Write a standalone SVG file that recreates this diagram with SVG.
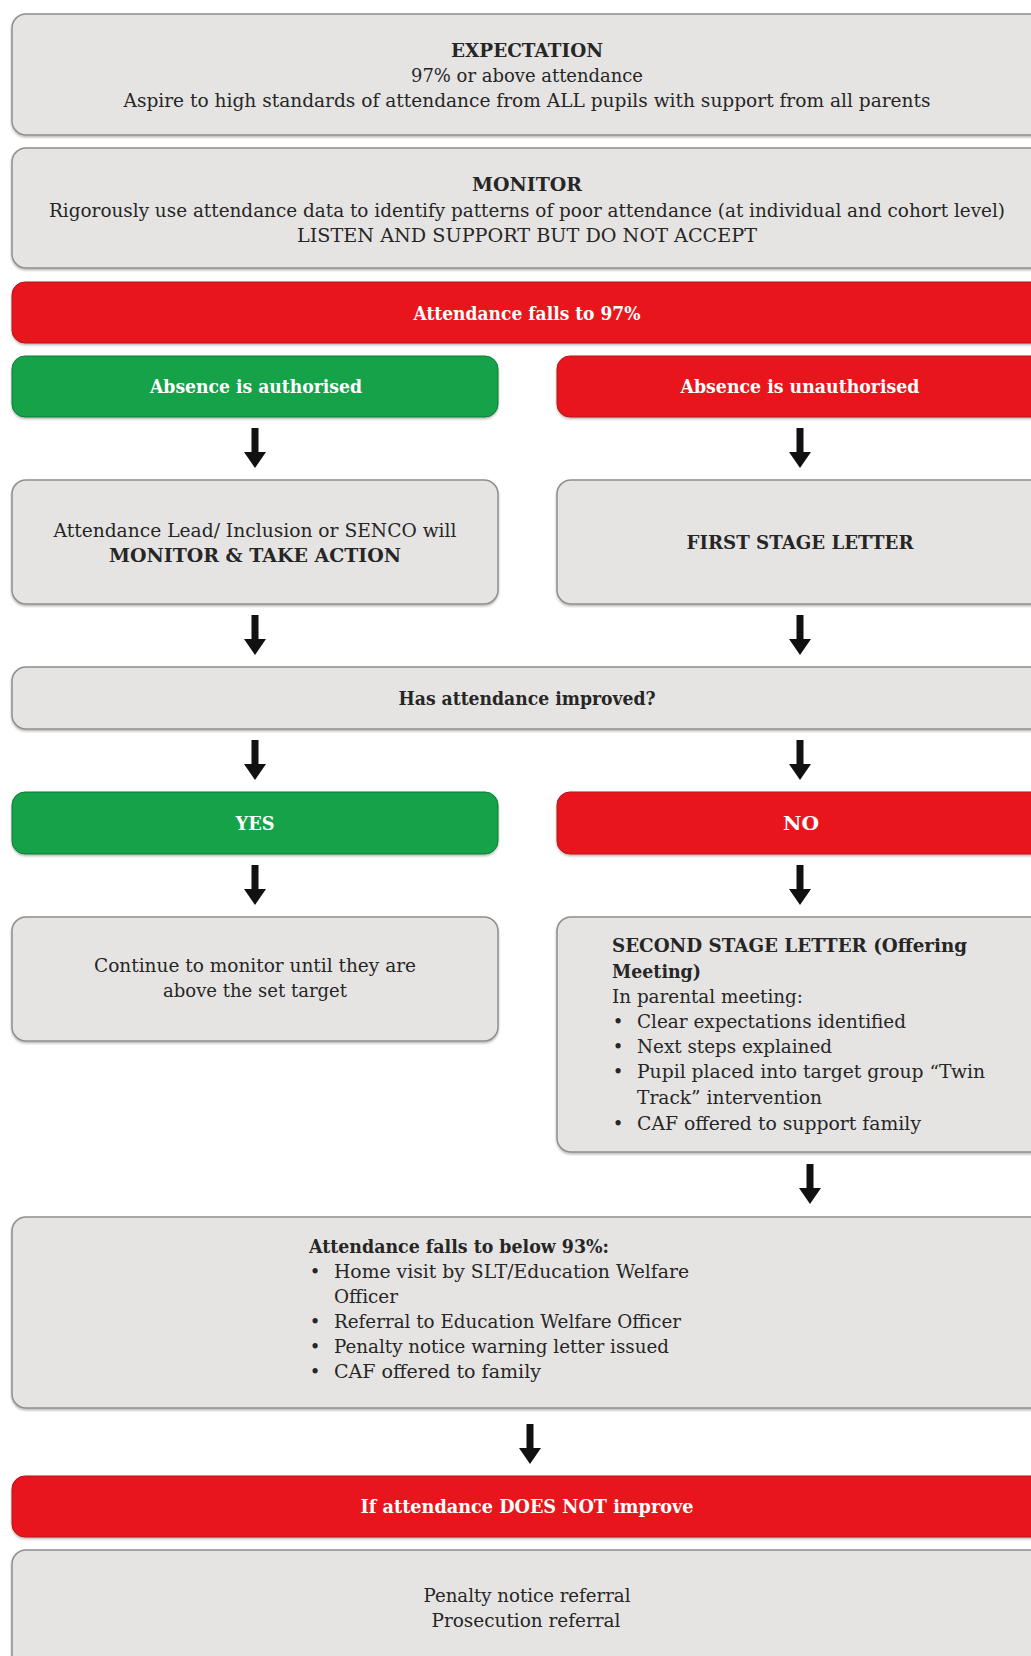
<svg xmlns="http://www.w3.org/2000/svg" width="1031" height="1656" viewBox="0 0 1031 1656">
  <style>
    text { font-family: "DejaVu Serif", "Liberation Serif", serif; font-size: 18px; fill: #262626; }
    .c { text-anchor: middle; }
    .b { font-weight: bold; }
    .w { fill: #ffffff; font-weight: bold; }
    .gray { fill: #e5e4e3; stroke: #8f8f8f; stroke-width: 1.5; }
    .red { fill: #e8161f; stroke: #b51218; stroke-width: 1; }
    .green { fill: #14a24a; stroke: #0f7d39; stroke-width: 1; }
  </style>
  <defs>
    <filter id="sh" x="-5%" y="-5%" width="110%" height="120%">
      <feDropShadow dx="0" dy="1.5" stdDeviation="1" flood-color="#000" flood-opacity="0.3"/>
    </filter>
    <path id="arr" d="M-3.5,0 H3.5 V24 H11 L0,40 L-11,24 H-3.5 Z" fill="#111"/>
  </defs>
  <rect width="1031" height="1656" fill="#ffffff"/>

  <g id="expectation">
    <rect class="gray" x="12" y="14" width="1040" height="121" rx="14" filter="url(#sh)"/>
    <text class="c b" x="527" y="57" textLength="152" lengthAdjust="spacingAndGlyphs">EXPECTATION</text>
    <text class="c" x="527" y="82" textLength="232" lengthAdjust="spacingAndGlyphs">97% or above attendance</text>
    <text class="c" x="527" y="107" textLength="807" lengthAdjust="spacingAndGlyphs">Aspire to high standards of attendance from ALL pupils with support from all parents</text>
  </g>

  <g id="monitor">
    <rect class="gray" x="12" y="148" width="1040" height="120" rx="14" filter="url(#sh)"/>
    <text class="c b" x="527" y="191" textLength="110" lengthAdjust="spacingAndGlyphs">MONITOR</text>
    <text class="c" x="527" y="217" textLength="956" lengthAdjust="spacingAndGlyphs">Rigorously use attendance data to identify patterns of poor attendance (at individual and cohort level)</text>
    <text class="c" x="527" y="242" textLength="460" lengthAdjust="spacingAndGlyphs">LISTEN AND SUPPORT BUT DO NOT ACCEPT</text>
  </g>

  <g id="falls97">
    <rect class="red" x="12" y="282" width="1040" height="61" rx="13" filter="url(#sh)"/>
    <text class="c w" x="527" y="320" textLength="227" lengthAdjust="spacingAndGlyphs">Attendance falls to 97%</text>
  </g>

  <g id="authorised">
    <rect class="green" x="12" y="356" width="486" height="61" rx="13" filter="url(#sh)"/>
    <text class="c w" x="256" y="393" textLength="212" lengthAdjust="spacingAndGlyphs">Absence is authorised</text>
  </g>

  <g id="unauthorised">
    <rect class="red" x="557" y="356" width="495" height="61" rx="13" filter="url(#sh)"/>
    <text class="c w" x="800" y="393" textLength="239" lengthAdjust="spacingAndGlyphs">Absence is unauthorised</text>
  </g>

  <g id="monitor-action">
    <rect class="gray" x="12" y="480" width="486" height="124" rx="14" filter="url(#sh)"/>
    <text class="c" x="255" y="537" textLength="403" lengthAdjust="spacingAndGlyphs">Attendance Lead/ Inclusion or SENCO will</text>
    <text class="c b" x="255" y="562" textLength="292" lengthAdjust="spacingAndGlyphs">MONITOR &amp; TAKE ACTION</text>
  </g>

  <g id="first-letter">
    <rect class="gray" x="557" y="480" width="495" height="124" rx="14" filter="url(#sh)"/>
    <text class="c b" x="800" y="549" textLength="227" lengthAdjust="spacingAndGlyphs">FIRST STAGE LETTER</text>
  </g>

  <g id="improved">
    <rect class="gray" x="12" y="667" width="1040" height="62" rx="14" filter="url(#sh)"/>
    <text class="c b" x="527" y="705" textLength="257" lengthAdjust="spacingAndGlyphs">Has attendance improved?</text>
  </g>

  <g id="yes">
    <rect class="green" x="12" y="792" width="486" height="62" rx="13" filter="url(#sh)"/>
    <text class="c w" x="255" y="830" textLength="39" lengthAdjust="spacingAndGlyphs">YES</text>
  </g>

  <g id="no">
    <rect class="red" x="557" y="792" width="495" height="62" rx="13" filter="url(#sh)"/>
    <text class="c w" x="801" y="830" textLength="36" lengthAdjust="spacingAndGlyphs">NO</text>
  </g>

  <g id="continue">
    <rect class="gray" x="12" y="917" width="486" height="124" rx="14" filter="url(#sh)"/>
    <text class="c" x="255" y="972" textLength="322" lengthAdjust="spacingAndGlyphs">Continue to monitor until they are</text>
    <text class="c" x="255" y="997" textLength="184" lengthAdjust="spacingAndGlyphs">above the set target</text>
  </g>

  <g id="second-letter">
    <rect class="gray" x="557" y="917" width="495" height="235" rx="14" filter="url(#sh)"/>
    <text class="b" x="612" y="952" textLength="355" lengthAdjust="spacingAndGlyphs">SECOND STAGE LETTER (Offering</text>
    <text class="b" x="612" y="978" textLength="89" lengthAdjust="spacingAndGlyphs">Meeting)</text>
    <text x="612" y="1003" textLength="191" lengthAdjust="spacingAndGlyphs">In parental meeting:</text>
    <text class="c" x="618" y="1028">•</text>
    <text x="637" y="1028" textLength="269" lengthAdjust="spacingAndGlyphs">Clear expectations identified</text>
    <text class="c" x="618" y="1053">•</text>
    <text x="637" y="1053" textLength="195" lengthAdjust="spacingAndGlyphs">Next steps explained</text>
    <text class="c" x="618" y="1078">•</text>
    <text x="637" y="1078" textLength="348" lengthAdjust="spacingAndGlyphs">Pupil placed into target group “Twin</text>
    <text x="637" y="1104" textLength="185" lengthAdjust="spacingAndGlyphs">Track” intervention</text>
    <text class="c" x="618" y="1130">•</text>
    <text x="637" y="1130" textLength="284" lengthAdjust="spacingAndGlyphs">CAF offered to support family</text>
  </g>

  <g id="below93">
    <rect class="gray" x="12" y="1217" width="1040" height="191" rx="14" filter="url(#sh)"/>
    <text class="b" x="309" y="1253" textLength="300" lengthAdjust="spacingAndGlyphs">Attendance falls to below 93%:</text>
    <text class="c" x="315" y="1278">•</text>
    <text x="334" y="1278" textLength="355" lengthAdjust="spacingAndGlyphs">Home visit by SLT/Education Welfare</text>
    <text x="334" y="1303" textLength="64" lengthAdjust="spacingAndGlyphs">Officer</text>
    <text class="c" x="315" y="1328">•</text>
    <text x="334" y="1328" textLength="347" lengthAdjust="spacingAndGlyphs">Referral to Education Welfare Officer</text>
    <text class="c" x="315" y="1353">•</text>
    <text x="334" y="1353" textLength="335" lengthAdjust="spacingAndGlyphs">Penalty notice warning letter issued</text>
    <text class="c" x="315" y="1378">•</text>
    <text x="334" y="1378" textLength="207" lengthAdjust="spacingAndGlyphs">CAF offered to family</text>
  </g>

  <g id="not-improve">
    <rect class="red" x="12" y="1476" width="1040" height="61" rx="13" filter="url(#sh)"/>
    <text class="c w" x="527" y="1513" textLength="333" lengthAdjust="spacingAndGlyphs">If attendance DOES NOT improve</text>
  </g>

  <g id="referral">
    <rect class="gray" x="12" y="1550" width="1040" height="140" rx="14" filter="url(#sh)"/>
    <text class="c" x="527" y="1602" textLength="207" lengthAdjust="spacingAndGlyphs">Penalty notice referral</text>
    <text class="c" x="526" y="1627" textLength="189" lengthAdjust="spacingAndGlyphs">Prosecution referral</text>
  </g>

  <g id="connectors">
    <use href="#arr" x="255" y="428"/>
    <use href="#arr" x="800" y="428"/>
    <use href="#arr" x="255" y="615"/>
    <use href="#arr" x="800" y="615"/>
    <use href="#arr" x="255" y="740"/>
    <use href="#arr" x="800" y="740"/>
    <use href="#arr" x="255" y="865"/>
    <use href="#arr" x="800" y="865"/>
    <use href="#arr" x="810" y="1164"/>
    <use href="#arr" x="530" y="1424"/>
  </g>
</svg>
